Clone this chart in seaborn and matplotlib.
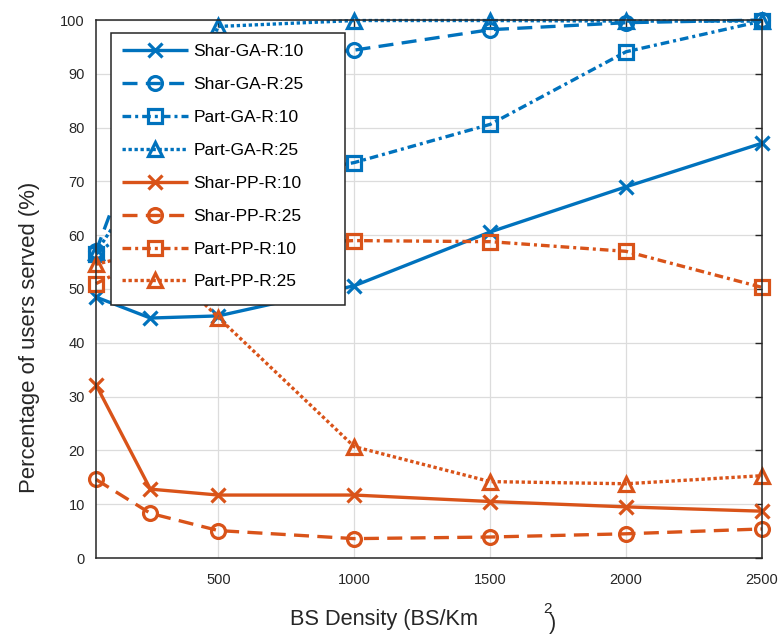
import numpy as np
import pandas as pd
import matplotlib
matplotlib.use("Agg")
import matplotlib.pyplot as plt
from matplotlib.patches import Rectangle
import seaborn as sns

# ---- data ----
bs_density = [50, 250, 500, 1000, 1500, 2000, 2500]
series_names = ["Shar-GA-R:10", "Shar-GA-R:25", "Part-GA-R:10", "Part-GA-R:25",
                "Shar-PP-R:10", "Shar-PP-R:25", "Part-PP-R:10", "Part-PP-R:25"]
shar_ga_r10 = [48.5, 44.6, 45.0, 50.6, 60.6, 69.0, 77.1]
shar_ga_r25 = [57.0, 84.0, 92.0, 94.4, 98.2, 99.5, 100.0]
part_ga_r10 = [56.5, 64.0, 69.0, 73.5, 80.6, 94.1, 99.8]
part_ga_r25 = [56.8, 72.0, 98.8, 99.9, 99.9, 99.8, 99.8]
shar_pp_r10 = [32.2, 12.8, 11.7, 11.7, 10.5, 9.5, 8.7]
shar_pp_r25 = [14.6, 8.3, 5.1, 3.6, 3.9, 4.5, 5.4]
part_pp_r10 = [51.0, 56.0, 58.0, 59.0, 58.8, 57.0, 50.3]
part_pp_r25 = [54.6, 57.0, 44.7, 20.7, 14.2, 13.8, 15.3]
x_ticks = [500, 1000, 1500, 2000, 2500]
y_ticks = [0, 10, 20, 30, 40, 50, 60, 70, 80, 90, 100]

values = [shar_ga_r10, shar_ga_r25, part_ga_r10, part_ga_r25,
          shar_pp_r10, shar_pp_r25, part_pp_r10, part_pp_r25]

blue = "#0072BD"
orange = "#D95319"
colors = [blue] * 4 + [orange] * 4
styles = [(0, ()), (0, (4.5, 2.5)), (0, (2.6, 1.2, 0.9, 1.2)), (0, (1.0, 0.8))] * 2
markers = ["x", "o", "s", "^"] * 2

sns.set_style("white")
plt.rcParams["font.family"] = ["Liberation Sans", "DejaVu Sans"]

W, H = 783, 635
fig = plt.figure(figsize=(W / 100, H / 100), dpi=100)
ax = fig.add_axes([96 / W, 1 - 558 / H, 666 / W, 538 / H])

for name, vals, c, ls, mk in zip(series_names, values, colors, styles, markers):
    df = pd.DataFrame({"x": bs_density, "y": vals})
    sns.lineplot(data=df, x="x", y="y", ax=ax, color=c, linestyle=ls,
                 linewidth=2.4, marker=mk, markersize=10,
                 markerfacecolor="none", markeredgecolor=c,
                 markeredgewidth=2.3, label=name, clip_on=False)

ax.set_xlim(50, 2500)
ax.set_ylim(0, 100)
ax.set_xticks(x_ticks)
ax.set_yticks(y_ticks)
ax.grid(True, color="#dcdcdc", linewidth=0.9)
ax.set_axisbelow(True)
for s in ax.spines.values():
    s.set_color("#262626")
    s.set_linewidth(1.1)
    s.set_visible(True)
ax.tick_params(direction="in", top=True, right=True, length=5, width=1,
               colors="#262626", labelsize=10.5, labelcolor="#262626")
ax.tick_params(axis="x", pad=11)
ax.tick_params(axis="y", pad=8)

ax.set_xlabel("")
ax.set_ylabel("")
fig.text(30 / W, 1 - 337 / H, "Percentage of users served (%)", fontsize=15.9,
         color="#262626", rotation=90, ha="center", va="center")

fig.text(290 / W, 1 - 625 / H, "BS Density (BS/Km", fontsize=15.7, color="#262626",
         ha="left", va="baseline")
fig.text(543 / W, 1 - 613 / H, "2", fontsize=11, color="#262626",
         ha="left", va="baseline")
fig.text(549 / W, 1 - 629 / H, ")", fontsize=15.7, color="#262626",
         ha="left", va="baseline")

# legend box (drawn as its own frame to match the wide reference box)
box = Rectangle((15 / 666, (558 - 305) / 538), (345 - 111) / 666, (305 - 33) / 538,
                transform=ax.transAxes, facecolor="white", edgecolor="#262626",
                linewidth=1.1, zorder=4.5, clip_on=False)
ax.add_patch(box)
leg = ax.legend(loc="upper left", bbox_to_anchor=(15 / 666, (558 - 33) / 538),
                fontsize=12.5, handlelength=3.8, labelspacing=1.02, borderpad=0.65,
                handletextpad=0.3, frameon=False, borderaxespad=0)
leg.set_zorder(5)
for t in leg.get_texts():
    t.set_color("#000000")

fig.savefig("out.png", dpi=100)
